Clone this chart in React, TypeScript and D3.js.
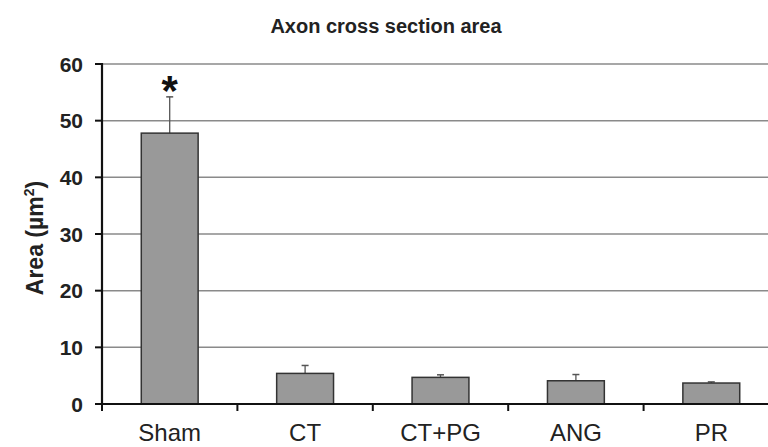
import React from "react";
import * as d3 from "d3";

const categories = ["Sham", "CT", "CT+PG", "ANG", "PR"];
const means = [47.8, 5.4, 4.7, 4.1, 3.7];
const errors = [6.4, 1.4, 0.45, 1.1, 0.2];
const yTicks = [0, 10, 20, 30, 40, 50, 60];
const significant = [true, false, false, false, false];

const W = 768;
const H = 447;
const left = 102;
const top = 64;
const bottom = 404;
const catWidth = 135.4;

export default function App() {
  const x = d3
    .scaleBand<string>()
    .domain(categories)
    .range([left, left + catWidth * categories.length])
    .paddingInner(0.58)
    .paddingOuter(0.29);
  const y = d3.scaleLinear().domain([0, 60]).range([bottom, top]);
  const font = "Arial, 'Liberation Sans', Helvetica, sans-serif";
  const boundaries = d3.range(categories.length + 1).map((i) => left + i * catWidth);

  return (
    <svg width={W} height={H} style={{ position: "absolute", left: 0, top: 0, background: "#fff" }}>
      <text x={386} y={33} textAnchor="middle" fontFamily={font} fontSize={20} fontWeight="bold" fill="#222">
        Axon cross section area
      </text>
      {yTicks.filter((t) => t > 0).map((t) => (
        <line key={"g" + t} x1={left} x2={W} y1={y(t)} y2={y(t)} stroke="#8a8a8a" strokeWidth={1.5} />
      ))}
      {categories.map((c, i) => {
        const cx = x(c)! + x.bandwidth() / 2;
        const yTop = y(means[i] + errors[i]);
        return (
          <g key={c}>
            <line x1={cx} x2={cx} y1={y(means[i])} y2={yTop} stroke="#555" strokeWidth={1.3} />
            <line x1={cx - 3.5} x2={cx + 3.5} y1={yTop} y2={yTop} stroke="#555" strokeWidth={1.5} />
            <rect
              x={x(c)!}
              y={y(means[i])}
              width={x.bandwidth()}
              height={y(0) - y(means[i])}
              fill="#999999"
              stroke="#333"
              strokeWidth={1.5}
            />
            {significant[i] && (
              <text x={cx} y={yTop + 8} textAnchor="middle" fontFamily={font} fontSize={42} fontWeight="bold" fill="#111">
                *
              </text>
            )}
            <text x={cx} y={441} textAnchor="middle" fontFamily={font} fontSize={24} fill="#222">
              {c}
            </text>
          </g>
        );
      })}
      <line x1={left} x2={left} y1={top - 1} y2={bottom + 1} stroke="#111" strokeWidth={2.2} />
      <line x1={left - 1} x2={W} y1={bottom} y2={bottom} stroke="#111" strokeWidth={2.2} />
      {yTicks.map((t) => (
        <g key={"t" + t}>
          <line x1={left - 7} x2={left} y1={y(t)} y2={y(t)} stroke="#111" strokeWidth={2} />
          <text x={83} y={y(t) + 7.5} textAnchor="end" fontFamily={font} fontSize={21} fontWeight="bold" fill="#222">
            {t}
          </text>
        </g>
      ))}
      {boundaries.map((b, i) => (
        <line key={"b" + i} x1={b} x2={b} y1={bottom} y2={bottom + 7} stroke="#111" strokeWidth={2} />
      ))}
      <text
        transform={`translate(43,238) rotate(-90)`}
        textAnchor="middle"
        fontFamily={font}
        fontSize={23}
        fontWeight="bold"
        fill="#222"
      >
        Area (µm
        <tspan dy={-9} fontSize={14}>2</tspan>
        <tspan dy={9}>)</tspan>
      </text>
    </svg>
  );
}
